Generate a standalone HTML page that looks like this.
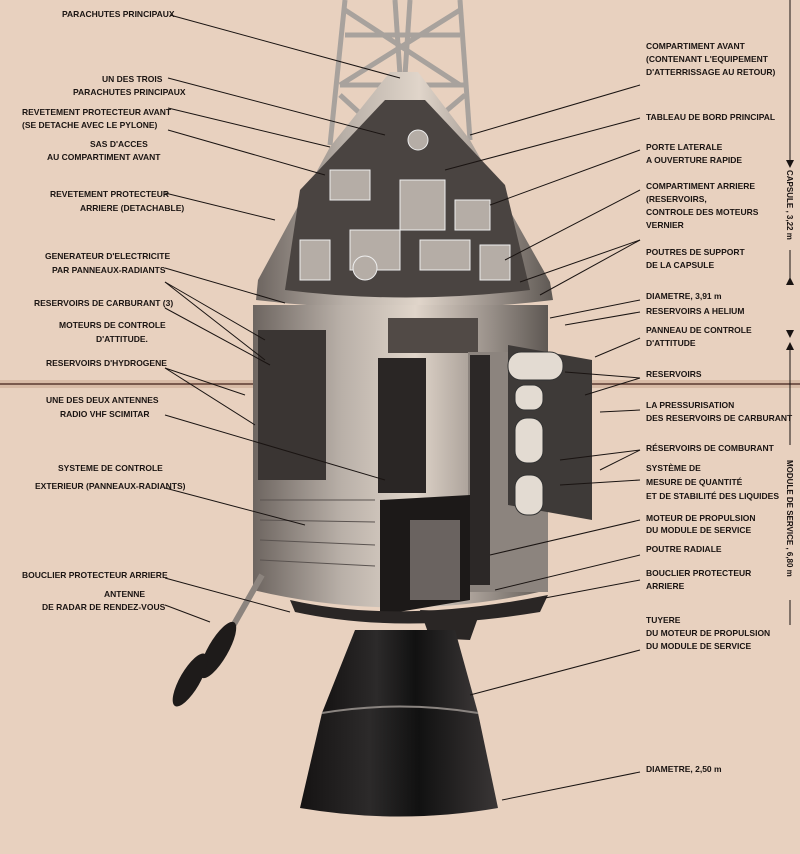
<!DOCTYPE html>
<html><head><meta charset="utf-8"><style>
html,body{margin:0;padding:0;background:#e8d1bf;}
svg{display:block}
text{font-family:"Liberation Sans",sans-serif;font-size:8.5px;font-weight:bold;fill:#1a1412;}
</style></head><body>
<svg width="800" height="854" viewBox="0 0 800 854" xmlns="http://www.w3.org/2000/svg">
<defs>
<linearGradient id="cyl" x1="0" x2="1">
<stop offset="0" stop-color="#6d6560"/><stop offset="0.3" stop-color="#b9b0a8"/><stop offset="0.55" stop-color="#e0d5ca"/><stop offset="0.8" stop-color="#9a918a"/><stop offset="1" stop-color="#5e5853"/></linearGradient>
<linearGradient id="noz" x1="0" x2="1">
<stop offset="0" stop-color="#151313"/><stop offset="0.35" stop-color="#2c2a2a"/><stop offset="0.6" stop-color="#111"/><stop offset="1" stop-color="#3a3636"/></linearGradient>
</defs>
<rect width="800" height="854" fill="#e8d1bf"/>
<rect x="0" y="380" width="800" height="8" fill="#d8bba6"/>
<line x1="0" y1="384" x2="800" y2="384" stroke="#5a3a30" stroke-width="1.5"/>
<!-- tower -->
<g stroke="#a8a29d" stroke-width="5" fill="none">
<line x1="345" y1="0" x2="330" y2="145"/><line x1="460" y1="0" x2="470" y2="140"/>
<line x1="395" y1="0" x2="400" y2="75"/><line x1="410" y1="0" x2="405" y2="75"/>
<line x1="345" y1="35" x2="460" y2="35"/><line x1="340" y1="85" x2="465" y2="85"/>
<line x1="345" y1="10" x2="460" y2="85"/><line x1="460" y1="10" x2="340" y2="85"/>
<line x1="340" y1="95" x2="400" y2="150"/><line x1="465" y1="95" x2="400" y2="150"/>
<line x1="403" y1="105" x2="403" y2="155"/>
</g>
<!-- capsule cone -->
<path d="M330,147 L390,72 L418,72 L470,140 L550,282 L553,300 Q405,318 256,300 L258,280 Z" fill="url(#cyl)"/>
<path d="M300,190 L385,100 L425,100 L505,185 L530,290 Q405,305 285,290 Z" fill="#4a4441"/>
<g fill="#b5ada6" stroke="#eee" stroke-width="1">
<rect x="330" y="170" width="40" height="30"/><rect x="400" y="180" width="45" height="50"/><rect x="455" y="200" width="35" height="30"/>
<rect x="300" y="240" width="30" height="40"/><rect x="350" y="230" width="50" height="40"/><rect x="420" y="240" width="50" height="30"/><rect x="480" y="245" width="30" height="35"/>
<circle cx="365" cy="268" r="12"/><circle cx="418" cy="140" r="10"/></g>
<!-- service module -->
<path d="M253,305 L548,305 L548,590 Q400,625 253,590 Z" fill="url(#cyl)"/>
<rect x="258" y="330" width="68" height="150" fill="#3a3533"/>
<rect x="378" y="358" width="48" height="135" fill="#2a2625"/>
<rect x="388" y="318" width="90" height="35" fill="#514a46"/>
<rect x="468" y="352" width="80" height="240" fill="#8c847e"/>
<rect x="470" y="355" width="20" height="230" fill="#2c2827"/>
<path d="M380,500 L470,495 L470,600 L380,615 Z" fill="#1c1918"/>
<rect x="410" y="520" width="50" height="80" fill="#6a6360"/>
<path d="M508,345 L592,360 L592,520 L508,505 Z" fill="#3e3a38"/>
<g fill="#e3dbd2" stroke="#333"><rect x="508" y="352" width="55" height="28" rx="13"/><rect x="515" y="418" width="28" height="45" rx="12"/><rect x="515" y="475" width="28" height="40" rx="12"/><rect x="515" y="385" width="28" height="25" rx="10"/></g>
<g stroke="#5a5350" stroke-width="1"><line x1="260" y1="500" x2="375" y2="500"/><line x1="260" y1="520" x2="375" y2="522"/><line x1="260" y1="540" x2="375" y2="545"/><line x1="260" y1="560" x2="375" y2="566"/></g>
<path d="M290,600 Q400,625 548,595 L540,612 Q400,635 295,612 Z" fill="#2a2625"/>
<path d="M420,610 L480,612 L470,640 L430,638 Z" fill="#2a2625"/>
<!-- nozzle -->
<path d="M355,630 L455,630 L478,713 L322,713 Z" fill="url(#noz)"/>
<path d="M322,713 Q400,700 478,713 L498,808 Q400,825 300,808 Z" fill="url(#noz)"/>
<path d="M322,713 Q400,700 478,713" stroke="#8a8480" stroke-width="2" fill="none"/>
<!-- antenna -->
<line x1="262" y1="575" x2="225" y2="640" stroke="#8c847e" stroke-width="6"/>
<ellipse cx="218" cy="650" rx="10" ry="32" transform="rotate(30 218 650)" fill="#1e1b1a"/>
<ellipse cx="190" cy="680" rx="10" ry="30" transform="rotate(30 190 680)" fill="#1e1b1a"/>
<!-- leader lines -->
<g stroke="#1a1412" stroke-width="1" fill="none">
<line x1="170" y1="15" x2="400" y2="78"/>
<line x1="168" y1="78" x2="385" y2="135"/>
<line x1="168" y1="108" x2="330" y2="147"/>
<line x1="168" y1="130" x2="325" y2="175"/>
<line x1="165" y1="193" x2="275" y2="220"/>
<line x1="165" y1="268" x2="285" y2="303"/>
<line x1="165" y1="282" x2="265" y2="340"/><line x1="165" y1="282" x2="265" y2="360"/>
<line x1="165" y1="308" x2="270" y2="365"/>
<line x1="165" y1="368" x2="255" y2="425"/><line x1="165" y1="368" x2="245" y2="395"/>
<line x1="165" y1="415" x2="385" y2="480"/>
<line x1="165" y1="488" x2="305" y2="525"/>
<line x1="165" y1="578" x2="290" y2="612"/>
<line x1="165" y1="605" x2="210" y2="622"/>
<line x1="640" y1="85" x2="470" y2="135"/>
<line x1="640" y1="118" x2="445" y2="170"/>
<line x1="640" y1="150" x2="490" y2="205"/>
<line x1="640" y1="190" x2="505" y2="260"/>
<line x1="640" y1="240" x2="520" y2="282"/><line x1="640" y1="240" x2="540" y2="295"/>
<line x1="640" y1="300" x2="550" y2="318"/>
<line x1="640" y1="312" x2="565" y2="325"/>
<line x1="640" y1="338" x2="595" y2="357"/>
<line x1="640" y1="378" x2="565" y2="372"/><line x1="640" y1="378" x2="585" y2="395"/>
<line x1="640" y1="410" x2="600" y2="412"/>
<line x1="640" y1="450" x2="560" y2="460"/><line x1="640" y1="450" x2="600" y2="470"/>
<line x1="640" y1="480" x2="560" y2="485"/>
<line x1="640" y1="520" x2="490" y2="555"/>
<line x1="640" y1="555" x2="495" y2="590"/>
<line x1="640" y1="580" x2="545" y2="598"/>
<line x1="640" y1="650" x2="470" y2="695"/>
<line x1="640" y1="772" x2="502" y2="800"/>
<line x1="790" y1="0" x2="790" y2="160"/><line x1="790" y1="250" x2="790" y2="278"/>
<line x1="790" y1="350" x2="790" y2="445"/><line x1="790" y1="600" x2="790" y2="625"/>
</g>
<g fill="#1a1412">
<polygon points="786,160 794,160 790,168"/><polygon points="786,285 794,285 790,277"/>
<polygon points="786,330 794,330 790,338"/><polygon points="786,350 794,350 790,342"/>
</g>
<text x="787" y="170" transform="rotate(90 787 170)" style="font-size:8px">CAPSULE , 3,22 m</text>
<text x="787" y="460" transform="rotate(90 787 460)" style="font-size:8px">MODULE DE SERVICE , 6,80 m</text>
<!-- left labels -->
<text x="62" y="17">PARACHUTES PRINCIPAUX</text>
<text x="102" y="82">UN DES TROIS</text>
<text x="73" y="95">PARACHUTES PRINCIPAUX</text>
<text x="22" y="115">REVETEMENT PROTECTEUR AVANT</text>
<text x="22" y="128">(SE DETACHE AVEC LE PYLONE)</text>
<text x="90" y="147">SAS D'ACCES</text>
<text x="47" y="160">AU COMPARTIMENT AVANT</text>
<text x="50" y="197">REVETEMENT PROTECTEUR</text>
<text x="80" y="211">ARRIERE (DETACHABLE)</text>
<text x="45" y="259">GENERATEUR D'ELECTRICITE</text>
<text x="52" y="273">PAR PANNEAUX-RADIANTS</text>
<text x="34" y="306">RESERVOIRS DE CARBURANT (3)</text>
<text x="59" y="328">MOTEURS DE CONTROLE</text>
<text x="96" y="342">D'ATTITUDE.</text>
<text x="46" y="366">RESERVOIRS D'HYDROGENE</text>
<text x="46" y="403">UNE DES DEUX ANTENNES</text>
<text x="60" y="417">RADIO VHF SCIMITAR</text>
<text x="58" y="471">SYSTEME DE CONTROLE</text>
<text x="35" y="489">EXTERIEUR (PANNEAUX-RADIANTS)</text>
<text x="22" y="578">BOUCLIER PROTECTEUR ARRIERE</text>
<text x="104" y="597">ANTENNE</text>
<text x="42" y="610">DE RADAR DE RENDEZ-VOUS</text>
<!-- right labels -->
<text x="646" y="49">COMPARTIMENT AVANT</text>
<text x="646" y="62">(CONTENANT L'EQUIPEMENT</text>
<text x="646" y="75">D'ATTERRISSAGE AU RETOUR)</text>
<text x="646" y="120">TABLEAU DE BORD PRINCIPAL</text>
<text x="646" y="150">PORTE LATERALE</text>
<text x="646" y="163">A OUVERTURE RAPIDE</text>
<text x="646" y="189">COMPARTIMENT ARRIERE</text>
<text x="646" y="202">(RESERVOIRS,</text>
<text x="646" y="215">CONTROLE DES MOTEURS</text>
<text x="646" y="228">VERNIER</text>
<text x="646" y="255">POUTRES DE SUPPORT</text>
<text x="646" y="268">DE LA CAPSULE</text>
<text x="646" y="299">DIAMETRE, 3,91 m</text>
<text x="646" y="314">RESERVOIRS A HELIUM</text>
<text x="646" y="333">PANNEAU DE CONTROLE</text>
<text x="646" y="346">D'ATTITUDE</text>
<text x="646" y="377">RESERVOIRS</text>
<text x="646" y="408">LA PRESSURISATION</text>
<text x="646" y="421">DES RESERVOIRS DE CARBURANT</text>
<text x="646" y="451">RÉSERVOIRS DE COMBURANT</text>
<text x="646" y="471">SYSTÈME DE</text>
<text x="646" y="485">MESURE DE QUANTITÉ</text>
<text x="646" y="499">ET DE STABILITÉ DES LIQUIDES</text>
<text x="646" y="521">MOTEUR DE PROPULSION</text>
<text x="646" y="533">DU MODULE DE SERVICE</text>
<text x="646" y="552">POUTRE RADIALE</text>
<text x="646" y="576">BOUCLIER PROTECTEUR</text>
<text x="646" y="589">ARRIERE</text>
<text x="646" y="623">TUYERE</text>
<text x="646" y="636">DU MOTEUR DE PROPULSION</text>
<text x="646" y="649">DU MODULE DE SERVICE</text>
<text x="646" y="772">DIAMETRE, 2,50 m</text>
</svg>
</body></html>
